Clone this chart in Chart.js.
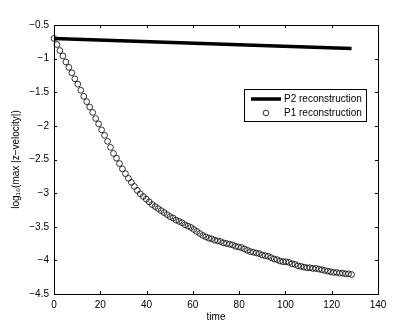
<!DOCTYPE html>
<html>
<head>
<meta charset="utf-8">
<script src="https://cdn.jsdelivr.net/npm/chart.js@4"></script>
<style>
  body { margin: 0; background: #fff; }
  #wrap { width: 417px; height: 332px; }
</style>
</head>
<body>
<div id="wrap"><canvas id="chart"></canvas></div>
<script>
// sample times of the P1 markers
const time = [
  0, 1.29, 2.57, 3.86, 5.14, 6.43, 7.71, 9.0, 10.29, 11.57,
  12.86, 14.14, 15.43, 16.71, 18.0, 19.29, 20.57, 21.86, 23.14, 24.43,
  25.71, 27.0, 28.29, 29.57, 30.86, 32.14, 33.43, 34.71, 36.0, 37.29,
  38.57, 39.86, 41.14, 42.43, 43.71, 45.0, 46.29, 47.57, 48.86, 50.14,
  51.43, 52.71, 54.0, 55.29, 56.57, 57.86, 59.14, 60.43, 61.71, 63.0,
  64.29, 65.57, 66.86, 68.14, 69.43, 70.71, 72.0, 73.29, 74.57, 75.86,
  77.14, 78.43, 79.71, 81.0, 82.29, 83.57, 84.86, 86.14, 87.43, 88.71,
  90.0, 91.29, 92.57, 93.86, 95.14, 96.43, 97.71, 99.0, 100.29, 101.57,
  102.86, 104.14, 105.43, 106.71, 108.0, 109.29, 110.57, 111.86, 113.14, 114.43,
  115.71, 117.0, 118.29, 119.57, 120.86, 122.14, 123.43, 124.71, 126.0, 127.29,
  128.57
];

// log10(max |z-velocity|), P1 reconstruction
const p1 = [
  -0.70, -0.79, -0.88, -0.96, -1.05, -1.13, -1.21, -1.30, -1.38, -1.47,
  -1.56, -1.64, -1.72, -1.80, -1.89, -1.97, -2.06, -2.14, -2.23, -2.32,
  -2.41, -2.48, -2.56, -2.64, -2.71, -2.78, -2.84, -2.90, -2.96, -3.01,
  -3.05, -3.09, -3.13, -3.17, -3.20, -3.23, -3.26, -3.29, -3.32, -3.35,
  -3.37, -3.40, -3.42, -3.44, -3.47, -3.49, -3.51, -3.54, -3.57, -3.60,
  -3.63, -3.65, -3.67, -3.68, -3.70, -3.71, -3.72, -3.74, -3.75, -3.76,
  -3.77, -3.79, -3.80, -3.81, -3.83, -3.85, -3.87, -3.88, -3.89, -3.90,
  -3.92, -3.93, -3.94, -3.96, -3.98, -3.99, -4.01, -4.02, -4.02, -4.03,
  -4.05, -4.06, -4.08, -4.09, -4.10, -4.11, -4.11, -4.12, -4.12, -4.13,
  -4.14, -4.15, -4.16, -4.17, -4.18, -4.18, -4.19, -4.19, -4.20, -4.20,
  -4.21
];

// P2 reconstruction (nearly straight)
const p2Time = [0, 32, 64, 96, 128.57];
const p2 = [-0.70, -0.737, -0.774, -0.811, -0.85];

const xTicks = [0, 20, 40, 60, 80, 100, 120, 140];
const yTicks = [-4.5, -4, -3.5, -3, -2.5, -2, -1.5, -1, -0.5];

const FONT = "'Liberation Sans', Arial, Helvetica, sans-serif";

const toPoints = (xs, ys) => xs.map((x, i) => ({ x: x, y: ys[i] }));

// MATLAB style box with inward ticks on all four sides
const boxPlugin = {
  id: "box",
  afterDraw(chart) {
    const { ctx, chartArea: a, scales } = chart;
    ctx.save();
    ctx.strokeStyle = "#000";
    ctx.lineWidth = 1;
    ctx.strokeRect(Math.round(a.left) + 0.5, Math.round(a.top) + 0.5,
      Math.round(a.right - a.left), Math.round(a.bottom - a.top));
    ctx.beginPath();
    xTicks.forEach(v => {
      const px = Math.round(scales.x.getPixelForValue(v)) + 0.5;
      ctx.moveTo(px, a.bottom); ctx.lineTo(px, a.bottom - 3);
      ctx.moveTo(px, a.top); ctx.lineTo(px, a.top + 3);
    });
    yTicks.forEach(v => {
      const py = Math.round(scales.y.getPixelForValue(v)) + 0.5;
      ctx.moveTo(a.left, py); ctx.lineTo(a.left + 3, py);
      ctx.moveTo(a.right, py); ctx.lineTo(a.right - 3, py);
    });
    ctx.stroke();
    ctx.restore();
  }
};

// legend box in the upper right of the axes
const legendPlugin = {
  id: "matlabLegend",
  afterDraw(chart) {
    const { ctx, chartArea: a } = chart;
    const x0 = Math.round(a.right) - 134, y0 = Math.round(a.top) + 64;
    const w = 122, h = 32;
    ctx.save();
    ctx.fillStyle = "#fff";
    ctx.fillRect(x0, y0, w, h);
    ctx.strokeStyle = "#000";
    ctx.lineWidth = 1;
    ctx.strokeRect(x0 + 0.5, y0 + 0.5, w, h);

    ctx.strokeStyle = "#000";
    ctx.lineWidth = 3.5;
    ctx.beginPath();
    ctx.moveTo(x0 + 7, y0 + 10);
    ctx.lineTo(x0 + 37, y0 + 10);
    ctx.stroke();

    ctx.lineWidth = 0.8;
    ctx.beginPath();
    ctx.arc(x0 + 22, y0 + 24, 2.8, 0, Math.PI * 2);
    ctx.stroke();

    ctx.fillStyle = "#000";
    ctx.font = "10px " + FONT;
    ctx.textBaseline = "middle";
    ctx.fillText("P2 reconstruction", x0 + 40, y0 + 10);
    ctx.fillText("P1 reconstruction", x0 + 40, y0 + 24);
    ctx.restore();
  }
};

new Chart(document.getElementById("chart"), {
  type: "scatter",
  data: {
    datasets: [
      {
        label: "P2 reconstruction",
        data: toPoints(p2Time, p2),
        showLine: true,
        borderColor: "#000",
        borderWidth: 3.5,
        pointRadius: 0,
        clip: false
      },
      {
        label: "P1 reconstruction",
        data: toPoints(time, p1),
        showLine: false,
        pointStyle: "circle",
        pointRadius: 2.9,
        pointBorderWidth: 0.8,
        pointBorderColor: "#000",
        pointBackgroundColor: "rgba(0,0,0,0)",
        clip: false
      }
    ]
  },
  options: {
    responsive: true,
    maintainAspectRatio: false,
    animation: false,
    layout: { padding: { left: 0, right: 39, top: 25, bottom: 0 } },
    plugins: {
      legend: { display: false },
      tooltip: { enabled: false }
    },
    scales: {
      x: {
        type: "linear",
        min: 0,
        max: 140,
        afterBuildTicks: s => { s.ticks = xTicks.map(v => ({ value: v })); },
        afterFit: s => { s.height = 38; },
        grid: { display: false, drawTicks: false },
        border: { display: false },
        ticks: {
          color: "#000",
          font: { family: FONT, size: 10 },
          padding: 5,
          maxRotation: 0
        },
        title: {
          display: true,
          text: "time",
          color: "#000",
          font: { family: FONT, size: 10 },
          padding: { top: 0, bottom: 9 }
        }
      },
      y: {
        type: "linear",
        min: -4.5,
        max: -0.5,
        afterBuildTicks: s => { s.ticks = yTicks.map(v => ({ value: v })); },
        afterFit: s => { s.width = 54; },
        grid: { display: false, drawTicks: false },
        border: { display: false },
        ticks: {
          color: "#000",
          font: { family: FONT, size: 10 },
          padding: 5,
          callback: v => String(v).replace("-", "\u2212")
        },
        title: {
          display: true,
          text: "log\u2081\u2080(max |z\u2212velocity|)",
          color: "#000",
          font: { family: FONT, size: 10 },
          padding: { top: 10, bottom: 0 }
        }
      }
    }
  },
  plugins: [boxPlugin, legendPlugin]
});
</script>
</body>
</html>
